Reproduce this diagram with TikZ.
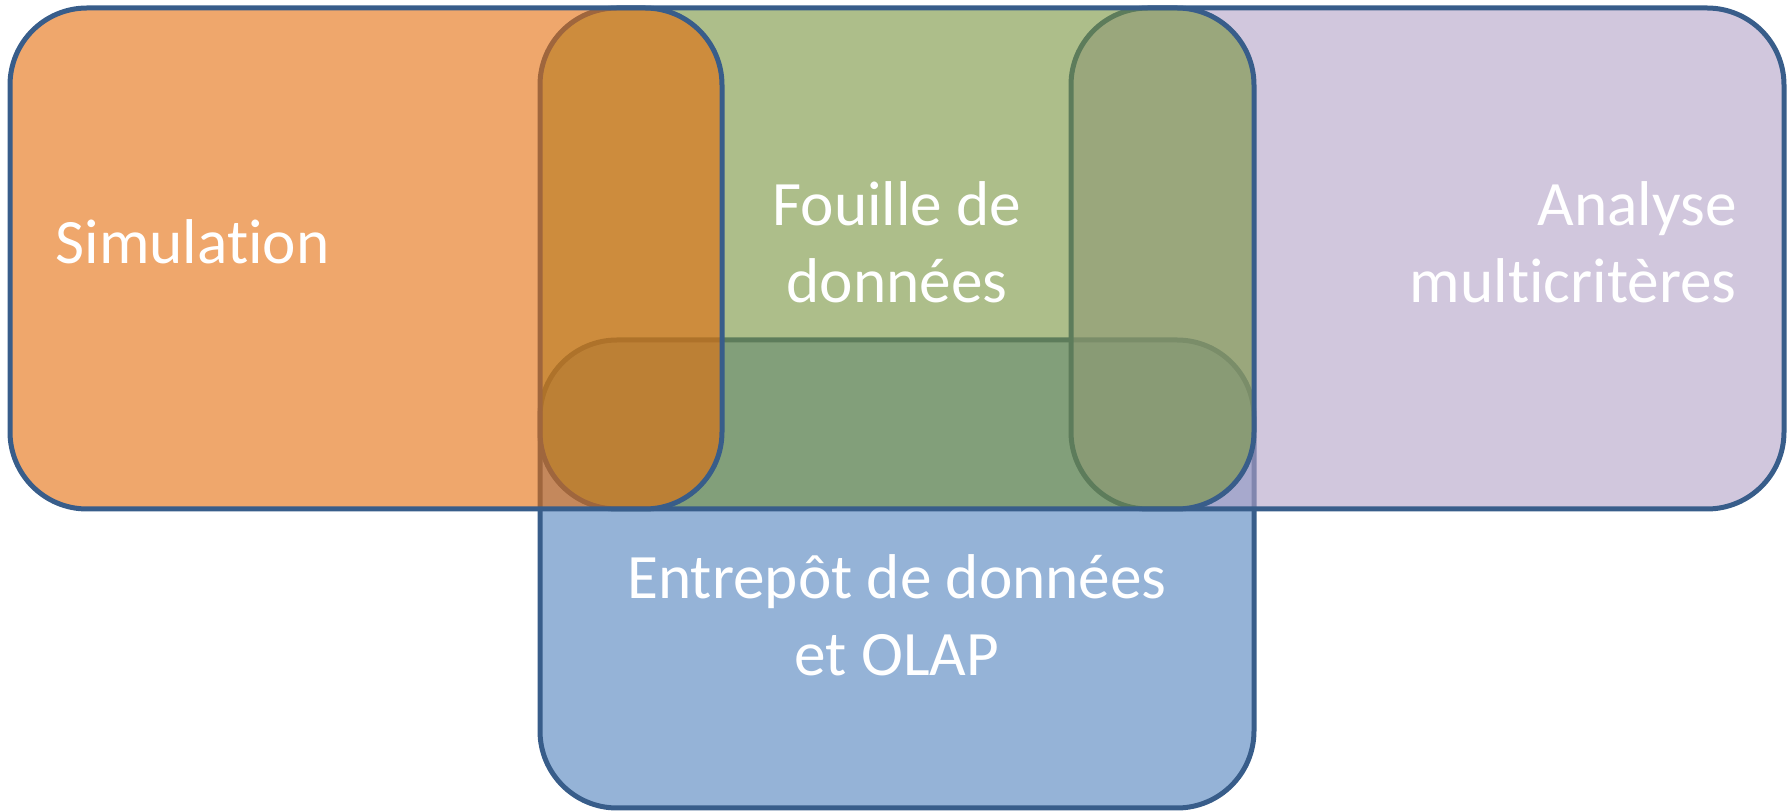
\documentclass[tikz,border=0pt]{standalone}
\usepackage{fontspec}
\setmainfont{Carlito}[Ligatures=NoCommon]
\usetikzlibrary{positioning}
\definecolor{simorange}{RGB}{228,108,10}
\definecolor{minegreen}{RGB}{118,146,60}
\definecolor{mcdapurple}{RGB}{179,162,199}
\definecolor{olapblue}{RGB}{79,129,189}
\definecolor{edgeblue}{RGB}{56,93,138}

\begin{document}
\begin{tikzpicture}[rounded corners=0.77cm, line width=0.05cm,
    vennbox/.style={draw=edgeblue, fill opacity=0.6},
    venntext/.style={text=white, font=\fontsize{18}{22}\selectfont, inner sep=0pt}]
    \useasboundingbox (0,0) rectangle (17.89,8.11);

    % Boxes, bottom one first
    \filldraw[vennbox, fill=olapblue] (5.40,0.03) rectangle (12.54,4.71);
    \filldraw[vennbox, fill=mcdapurple] (10.71,3.02) rectangle (17.84,8.03);
    \filldraw[vennbox, fill=minegreen] (5.40,3.02) rectangle (12.54,8.03);
    \filldraw[vennbox, fill=simorange] (0.10,3.02) rectangle (7.22,8.03);

    % Labels
    \node[venntext, anchor=west] (sim) at (0.53,5.69) {Simulation};
    \node[venntext, align=center] (mine) at (8.97,5.69) {Fouille de\\données};
    \node[venntext, align=right, anchor=east] (mcda) at (17.39,5.69) {Analyse\\multicritères};
    \node[venntext, align=center] (olap) at (8.97,1.96) {Entrepôt de données\\et OLAP};
\end{tikzpicture}
\end{document}
